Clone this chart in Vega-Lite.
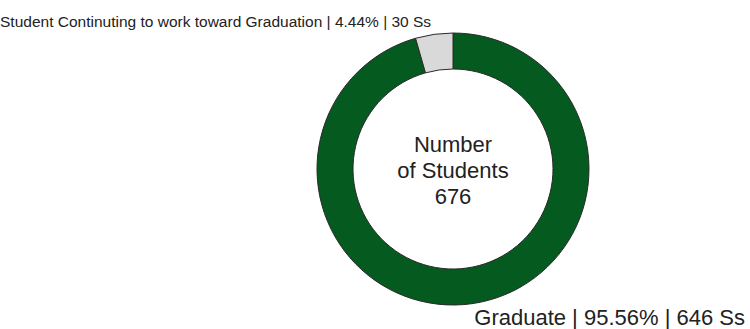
{
  "$schema": "https://vega.github.io/schema/vega-lite/v6.json",
  "width": 594,
  "height": 320,
  "autosize": {"type": "none"},
  "padding": {"left": 156, "top": 9, "right": 0, "bottom": 0},
  "background": "white",
  "config": {"view": {"stroke": null}},
  "title": {
    "text": "Student Continuting to work toward Graduation | 4.44% | 30 Ss",
    "anchor": "start",
    "frame": "group",
    "orient": "top",
    "font": "Liberation Sans, Arial, sans-serif",
    "fontSize": 15.5,
    "fontWeight": "normal",
    "color": "#222222",
    "baseline": "alphabetic",
    "offset": 0,
    "dx": -156,
    "dy": 33
  },
  "data": {
    "values": [
      {"category": "Graduate", "students": 646, "pct": 95.56},
      {"category": "Student Continuting to work toward Graduation", "students": 30, "pct": 4.44}
    ]
  },
  "layer": [
    {
      "mark": {"type": "arc", "outerRadius": 136, "innerRadius": 100, "stroke": "#2a2a2a", "strokeWidth": 1},
      "encoding": {
        "theta": {"field": "students", "type": "quantitative", "stack": true},
        "color": {
          "field": "category",
          "type": "nominal",
          "scale": {"domain": ["Graduate", "Student Continuting to work toward Graduation"], "range": ["#045a1f", "#d9d9d9"]},
          "legend": null
        }
      }
    },
    {
      "data": {"values": [{"label": ["Number", "of Students", "676"]}]},
      "mark": {"type": "text", "align": "center", "baseline": "middle", "font": "Liberation Sans, Arial, sans-serif", "fontSize": 22, "lineHeight": 26, "color": "#222222", "dy": -24},
      "encoding": {"text": {"field": "label"}}
    },
    {
      "data": {"values": [{"label": "Graduate | 95.56% | 646 Ss"}]},
      "mark": {"type": "text", "align": "right", "baseline": "alphabetic", "font": "Liberation Sans, Arial, sans-serif", "fontSize": 22, "color": "#222222", "dx": -5, "dy": -4},
      "encoding": {"text": {"field": "label"}, "x": {"value": "width"}, "y": {"value": "height"}}
    }
  ]
}
